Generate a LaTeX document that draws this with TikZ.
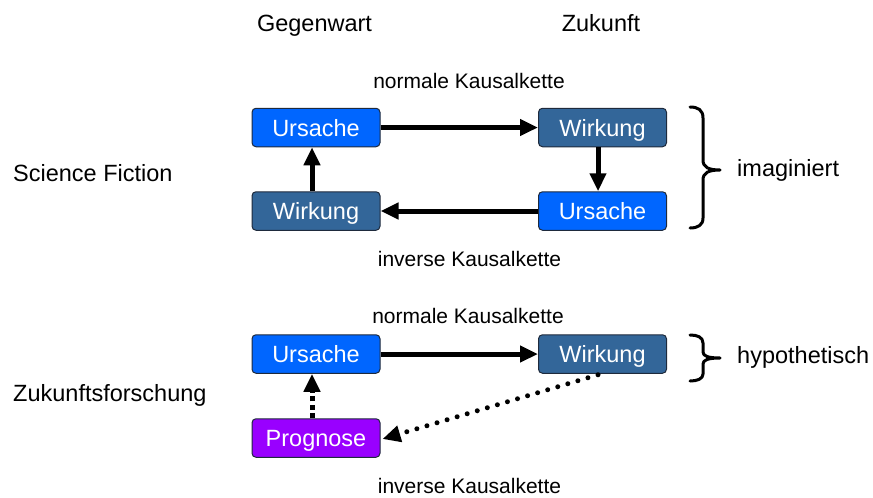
\documentclass[tikz,border=0pt]{standalone}
\usepackage{fontspec}
\setmainfont{Liberation Sans}
\usetikzlibrary{arrows.meta}
\definecolor{brightblue}{HTML}{0066FF}
\definecolor{steelblue}{HTML}{336699}
\definecolor{violet}{HTML}{9900FF}
\definecolor{boxline}{HTML}{1E2A3C}
\tikzset{
  every node/.style={font=\fontsize{23.5}{28}\selectfont, inner sep=0pt},
  box/.style={rectangle, rounded corners=4pt, draw=boxline, line width=1pt,
    minimum width=128pt, minimum height=38.5pt, text=white,
    text height=17pt, text depth=0pt},
  cause/.style={box, fill=brightblue},
  effect/.style={box, fill=steelblue},
  forecast/.style={box, fill=violet},
  lbl/.style={anchor=base},
  chainlbl/.style={anchor=base, font=\fontsize{21}{25}\selectfont},
  arr/.style={line width=5pt, -{Triangle[length=18pt,width=16pt]}},
  dasharr/.style={arr, dash pattern=on 5pt off 3.5pt},
  dotarr/.style={line width=5pt, line cap=round, dash pattern=on 0pt off 10.5pt,
    -{Triangle[length=18pt,width=16pt]}},
  brace/.style={line width=3pt, line cap=round, line join=round}
}
\begin{document}
\begin{tikzpicture}[x=1pt,y=-1pt]
\useasboundingbox (0,0) rectangle (873,498);

% column headers
\node[lbl] (hgeg) at (314.5,31) {Gegenwart};
\node[lbl] (hzuk) at (601,31) {Zukunft};

% row labels
\node[lbl, anchor=base west] (lsf) at (13,181) {Science Fiction};
\node[lbl, anchor=base west] (lzf) at (13,401) {Zukunftsforschung};

% chain labels
\node[chainlbl] (n1) at (469,88) {normale Kausalkette};
\node[chainlbl] (i1) at (469.5,266) {inverse Kausalkette};
\node[chainlbl] (n2) at (468,323) {normale Kausalkette};
\node[chainlbl] (i2) at (469.5,493) {inverse Kausalkette};

% boxes, Science Fiction
\node[cause]  (ur1) at (316,127.5) {Ursache};
\node[effect] (wi1) at (602.5,127.5) {Wirkung};
\node[cause]  (ur2) at (602.5,211) {Ursache};
\node[effect] (wi2) at (316,211) {Wirkung};

% boxes, Zukunftsforschung
\node[cause]    (ur3) at (316,354) {Ursache};
\node[effect]   (wi3) at (602.5,354) {Wirkung};
\node[forecast] (pr)  at (316,438) {Prognose};

% connectors
\draw[arr] (ur1) -- (wi1);
\draw[arr] ([xshift=-4.5pt]wi1.south) -- ([xshift=-4.5pt]ur2.north);
\draw[arr] (ur2) -- (wi2);
\draw[arr] ([xshift=-4pt]wi2.north) -- ([xshift=-4pt]ur1.south);
\draw[arr] (ur3) -- (wi3);
\draw[dasharr] ([xshift=-4pt]pr.north) -- ([xshift=-4pt]ur3.south);
\draw[dotarr] ([xshift=-4.5pt,yshift=-1pt]wi3.south) -- ([xshift=2pt,yshift=-1pt]pr.east);

% braces
\draw[brace] (690,107) .. controls (698,107) and (703,110) .. (703,118)
  -- (703,160) .. controls (703,167) and (708,170) .. (720,170)
  .. controls (708,170) and (703,173) .. (703,180)
  -- (703,218) .. controls (703,225) and (698,228) .. (690,228);
\node[lbl, anchor=base west] (imag) at (737,176) {imaginiert};

\draw[brace] (690,335) .. controls (697,335) and (703,337) .. (703,343)
  -- (703,352) .. controls (703,356) and (708,358) .. (720,358)
  .. controls (708,358) and (703,360) .. (703,364)
  -- (703,374) .. controls (703,379) and (697,381) .. (690,381);
\node[lbl, anchor=base west] (hyp) at (737,363) {hypothetisch};
\end{tikzpicture}
\end{document}
